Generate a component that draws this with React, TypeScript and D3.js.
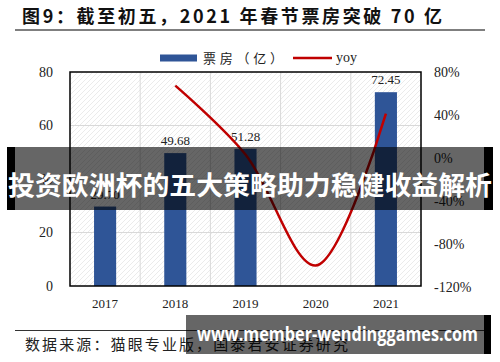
import * as React from 'react';
import { useEffect, useRef } from 'react';
import * as d3 from 'd3';

// chart data
const years = ['2017', '2018', '2019', '2020', '2021'];
const boxOffice = [29.7, 49.68, 51.28, 0, 72.45];
const boxLabels = ['29.70', '49.68', '51.28', '', '72.45'];
const yoy = [null, 67.3, 3.2, -100, 41.3];
const leftTicks = [0, 20, 40, 60, 80];
const rightTicks = [80, 40, 0, -40, -80, -120];

const title = '图9：截至初五，2021 年春节票房突破 70 亿';
const source = '数据来源：猫眼专业版，国泰君安证券研究';
const barName = '票房（亿）';
const lineName = 'yoy';
const bannerText = '投资欧洲杯的五大策略助力稳健收益解析';
const urlText = 'www.member-wendinggames.com';

const W = 500;
const H = 362;

const App: React.FC = () => {
  const svgRef = useRef<SVGSVGElement>(null);

  useEffect(() => {
    const svg = d3.select(svgRef.current);
    svg.selectAll('*').remove();

    const serif = '"Liberation Serif", "Times New Roman", serif';
    const cjk = '"Noto Sans CJK SC", sans-serif';

    const plot = { left: 70, right: 421, top: 72, bottom: 286 };

    const x = d3.scaleBand().domain(years).range([plot.left, plot.right]);
    const y = d3.scaleLinear().domain([0, 80]).range([plot.bottom, plot.top]);
    const y2 = d3.scaleLinear().domain([-120, 80]).range([287, 72]);

    // hatch pattern for plot background
    const defs = svg.append('defs');
    const pat = defs.append('pattern')
      .attr('id', 'hatch')
      .attr('patternUnits', 'userSpaceOnUse')
      .attr('width', 5)
      .attr('height', 5);
    pat.append('path')
      .attr('d', 'M0,5 L5,0 M-1,1 L1,-1 M4,6 L6,4')
      .attr('stroke', '#e6e6e6')
      .attr('stroke-width', 0.8);

    // title
    svg.append('text')
      .attr('x', 22).attr('y', 23)
      .attr('font-family', cjk)
      .attr('font-weight', 'bold')
      .attr('font-size', 18)
      .attr('textLength', 420)
      .attr('lengthAdjust', 'spacing')
      .attr('fill', '#111')
      .text(title);
    svg.append('line')
      .attr('x1', 15).attr('x2', 485)
      .attr('y1', 30).attr('y2', 30)
      .attr('stroke', '#7f7f7f').attr('stroke-width', 2);

    // plot background
    svg.append('rect')
      .attr('x', plot.left).attr('y', plot.top)
      .attr('width', plot.right - plot.left)
      .attr('height', plot.bottom - plot.top)
      .attr('fill', 'url(#hatch)');

    // gridlines
    const g = svg.append('g');
    g.selectAll('line.h')
      .data(leftTicks.slice(1, -1))
      .enter().append('line')
      .attr('x1', plot.left).attr('x2', plot.right)
      .attr('y1', d => y(d)).attr('y2', d => y(d))
      .attr('stroke', '#d9d9d9').attr('stroke-width', 1);
    g.selectAll('line.v')
      .data(years.slice(1))
      .enter().append('line')
      .attr('x1', d => x(d)!).attr('x2', d => x(d)!)
      .attr('y1', plot.top).attr('y2', plot.bottom)
      .attr('stroke', '#d9d9d9').attr('stroke-width', 1);

    // bars
    const bw = x.bandwidth() * 0.315;
    svg.append('g').selectAll('rect')
      .data(boxOffice)
      .enter().append('rect')
      .attr('x', (_, i) => x(years[i])! + x.bandwidth() / 2 - bw / 2)
      .attr('y', d => y(d))
      .attr('width', bw)
      .attr('height', d => y(0) - y(d))
      .attr('fill', '#2f5597');

    svg.append('g').selectAll('text')
      .data(boxOffice)
      .enter().append('text')
      .attr('x', (_, i) => x(years[i])! + x.bandwidth() / 2)
      .attr('y', d => y(d) - 8)
      .attr('text-anchor', 'middle')
      .attr('font-family', serif)
      .attr('font-size', 13)
      .attr('fill', '#222')
      .text((_, i) => boxLabels[i]);

    // frame
    svg.append('rect')
      .attr('x', plot.left).attr('y', plot.top)
      .attr('width', plot.right - plot.left)
      .attr('height', plot.bottom - plot.top)
      .attr('fill', 'none')
      .attr('stroke', '#000').attr('stroke-width', 1.5);

    // yoy line
    const pts = yoy
      .map((v, i) => ({ v, yr: years[i] }))
      .filter(d => d.v !== null) as { v: number; yr: string }[];
    const line = d3.line<{ v: number; yr: string }>()
      .x(d => x(d.yr)! + x.bandwidth() / 2)
      .y(d => y2(d.v))
      .curve(d3.curveCatmullRom.alpha(0.5));
    svg.append('path')
      .datum(pts)
      .attr('fill', 'none')
      .attr('stroke', '#c00000')
      .attr('stroke-width', 2.5)
      .attr('d', line);

    // left axis labels
    svg.append('g').selectAll('text')
      .data(leftTicks)
      .enter().append('text')
      .attr('x', 53)
      .attr('y', d => y(d))
      .attr('dy', '0.35em')
      .attr('text-anchor', 'end')
      .attr('font-family', serif)
      .attr('font-size', 14)
      .attr('fill', '#222')
      .text(d => d);

    // right axis labels
    svg.append('g').selectAll('text')
      .data(rightTicks)
      .enter().append('text')
      .attr('x', 434)
      .attr('y', d => y2(d))
      .attr('dy', '0.35em')
      .attr('font-family', serif)
      .attr('font-size', 14)
      .attr('fill', '#222')
      .text(d => `${d}%`);

    // x labels
    svg.append('g').selectAll('text')
      .data(years)
      .enter().append('text')
      .attr('x', d => x(d)! + x.bandwidth() / 2)
      .attr('y', 303)
      .attr('dy', '0.35em')
      .attr('text-anchor', 'middle')
      .attr('font-family', serif)
      .attr('font-size', 13)
      .attr('fill', '#222')
      .text(d => d);

    // legend
    const lg = svg.append('g');
    lg.append('rect')
      .attr('x', 160).attr('y', 54.5)
      .attr('width', 37).attr('height', 7)
      .attr('fill', '#2f5597');
    lg.append('text')
      .attr('x', 203).attr('y', 58)
      .attr('dy', '0.35em')
      .attr('font-family', cjk)
      .attr('font-size', 13)
      .attr('textLength', 80)
      .attr('lengthAdjust', 'spacing')
      .attr('fill', '#222')
      .text(barName);
    lg.append('line')
      .attr('x1', 293).attr('x2', 332)
      .attr('y1', 58).attr('y2', 58)
      .attr('stroke', '#c00000').attr('stroke-width', 2.5);
    lg.append('text')
      .attr('x', 336).attr('y', 57)
      .attr('dy', '0.35em')
      .attr('font-family', serif)
      .attr('font-size', 14)
      .attr('fill', '#222')
      .text(lineName);

    // source
    svg.append('line')
      .attr('x1', 15).attr('x2', 485)
      .attr('y1', 330.5).attr('y2', 330.5)
      .attr('stroke', '#333').attr('stroke-width', 1);
    svg.append('text')
      .attr('x', 25).attr('y', 350)
      .attr('font-family', cjk)
      .attr('font-size', 15)
      .attr('textLength', 323)
      .attr('lengthAdjust', 'spacing')
      .attr('fill', '#222')
      .text(source);

    // overlay banners
    svg.append('rect')
      .attr('x', 7).attr('y', 147).attr('width', 8).attr('height', 63)
      .attr('fill', '#000');
    svg.append('rect')
      .attr('x', 15).attr('y', 147).attr('width', 469).attr('height', 63)
      .attr('fill', 'rgba(0,0,0,0.6)');
    svg.append('rect')
      .attr('x', 484).attr('y', 147).attr('width', 9).attr('height', 63)
      .attr('fill', '#000');
    svg.append('text')
      .attr('x', 250).attr('y', 186)
      .attr('dy', '0.35em')
      .attr('text-anchor', 'middle')
      .attr('font-family', cjk)
      .attr('font-weight', 'bold')
      .attr('font-size', 26)
      .attr('textLength', 484)
      .attr('lengthAdjust', 'spacingAndGlyphs')
      .attr('fill', '#fff')
      .text(bannerText);

    svg.append('rect')
      .attr('x', 186).attr('y', 315).attr('width', 298).attr('height', 39)
      .attr('fill', 'rgba(0,0,0,0.6)');
    svg.append('rect')
      .attr('x', 484).attr('y', 315).attr('width', 7).attr('height', 39)
      .attr('fill', '#000');
    svg.append('text')
      .attr('x', 197).attr('y', 334)
      .attr('dy', '0.35em')
      .attr('font-family', '"Open Sans", "DejaVu Sans", sans-serif')
      .attr('font-weight', 'bold')
      .attr('font-size', 20)
      .attr('textLength', 281)
      .attr('lengthAdjust', 'spacingAndGlyphs')
      .attr('fill', '#fff')
      .text(urlText);
  }, []);

  return (
    <svg
      ref={svgRef}
      width={W}
      height={H}
      style={{ position: 'absolute', left: 0, top: 0, background: '#fff' }}
    />
  );
};

export default App;
